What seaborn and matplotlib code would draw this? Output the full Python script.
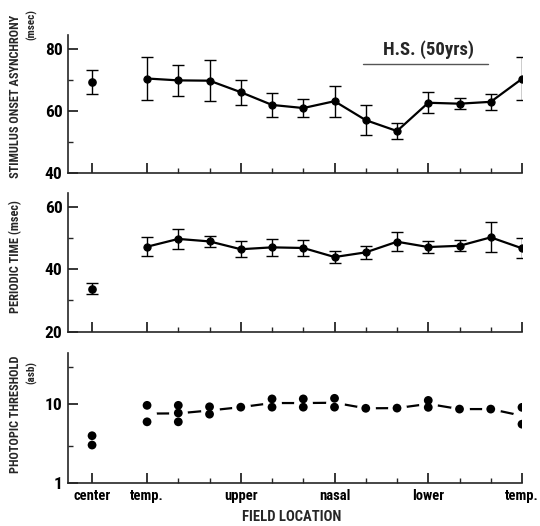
import numpy as np
import pandas as pd
import matplotlib
matplotlib.use('Agg')
import matplotlib.pyplot as plt
import seaborn as sns
from matplotlib.ticker import FixedLocator, NullFormatter, FixedFormatter

# ---------------- data ----------------
CENTER = -1.76
loc_ticks = [CENTER, 0, 3, 6, 9, 12]
loc_labels = ['center', 'temp.', 'upper', 'nasal', 'lower', 'temp.']
minor_ticks = [1, 2, 4, 5, 7, 8, 10, 11]
positions = list(range(13))

soa_center = [69.3]
soa_center_err = [3.8]
soa_mean = [70.4, 69.8, 69.7, 66.0, 61.9, 60.9, 63.1, 57.0, 53.5, 62.6, 62.3, 62.9, 70.3]
soa_err = [7.0, 5.0, 6.6, 4.0, 3.8, 2.9, 5.0, 4.8, 2.7, 3.4, 1.7, 2.6, 6.9]

per_center = [33.8]
per_center_err = [1.8]
per_mean = [47.2, 49.7, 48.9, 46.4, 47.0, 46.8, 43.9, 45.4, 48.8, 47.1, 47.5, 50.2, 46.7]
per_err = [3.0, 3.1, 1.8, 2.5, 2.7, 2.5, 1.8, 2.0, 3.0, 1.9, 1.8, 4.8, 3.2]

thr_pos = [CENTER, CENTER, 0, 0, 1, 1, 1, 2, 2, 3, 4, 4, 5, 5, 6, 6, 7, 8, 9, 9, 10, 11, 12, 12]
thr_val = [4.0, 3.05, 9.7, 6.0, 9.7, 7.76, 6.0, 9.3, 7.5, 9.2, 11.7, 9.2, 11.7, 9.2, 11.9, 9.2,
           8.9, 8.95, 11.2, 9.15, 8.7, 8.7, 9.15, 5.6]

# ---------------- style ----------------
sns.set_style('ticks')
FONT = ['Roboto Condensed', 'DejaVu Sans']
plt.rcParams['font.family'] = FONT
plt.rcParams['font.weight'] = 'bold'
plt.rcParams['axes.linewidth'] = 1.2

W, H = 540, 526
fig = plt.figure(figsize=(W / 100, H / 100), dpi=100)

def ax_rect(top_px, bottom_px, left_px=68, right_px=522):
    return [left_px / W, 1 - bottom_px / H, (right_px - left_px) / W, (bottom_px - top_px) / H]

ax1 = fig.add_axes(ax_rect(35, 173))
ax2 = fig.add_axes(ax_rect(193, 331.7))
ax3 = fig.add_axes(ax_rect(352.7, 483.3))

XLIM = (-2.53, 12.0)
MS = 5.2
CAP = 4.3

def style_axis(ax):
    sns.despine(ax=ax)
    ax.set_xlim(*XLIM)
    ax.spines['bottom'].set_bounds(XLIM[0], 12)
    ax.xaxis.set_major_locator(FixedLocator(loc_ticks))
    ax.xaxis.set_minor_locator(FixedLocator(minor_ticks))
    ax.tick_params(axis='both', which='major', direction='in', length=7, width=1.1,
                   labelsize=10.5, pad=4, colors='black')
    ax.tick_params(axis='y', which='major', labelsize=12.5, pad=4)
    ax.tick_params(axis='both', which='minor', direction='in', length=3.5, width=1.0)
    ax.set_xlabel('')
    ax.set_ylabel('')
    for lab in ax.get_yticklabels():
        lab.set_fontweight('bold')

# ---- top panel: SOA ----
sns.lineplot(x=positions, y=soa_mean, ax=ax1, color='black', lw=1.6, marker='o',
             markersize=MS, markeredgecolor='black', zorder=3)
ax1.errorbar(positions, soa_mean, yerr=soa_err, fmt='none', ecolor='black',
             elinewidth=1.0, capsize=CAP, capthick=1.0, zorder=2)
ax1.errorbar([CENTER], soa_center, yerr=soa_center_err, fmt='o', color='black',
             ms=MS, elinewidth=1.0, capsize=CAP, capthick=1.0, zorder=3)
ax1.set_ylim(40, 84.4)
ax1.yaxis.set_major_locator(FixedLocator([40, 60, 80]))
ax1.yaxis.set_minor_locator(FixedLocator([50, 70]))
style_axis(ax1)
ax1.set_xticklabels([])
ax1.text(9.0, 79.7, 'H.S. (50yrs)', ha='center', va='center', fontsize=13.5,
         fontweight='bold')
ax1.plot([6.91, 10.91], [75.2, 75.2], color='#555555', lw=1.0)

# ---- middle panel: periodic time ----
sns.lineplot(x=positions, y=per_mean, ax=ax2, color='black', lw=1.6, marker='o',
             markersize=MS, markeredgecolor='black', zorder=3)
ax2.errorbar(positions, per_mean, yerr=per_err, fmt='none', ecolor='black',
             elinewidth=1.0, capsize=CAP, capthick=1.0, zorder=2)
ax2.errorbar([CENTER], per_center, yerr=per_center_err, fmt='o', color='black',
             ms=MS, elinewidth=1.0, capsize=CAP, capthick=1.0, zorder=3)
ax2.set_ylim(20, 64.4)
ax2.yaxis.set_major_locator(FixedLocator([20, 40, 60]))
ax2.yaxis.set_minor_locator(FixedLocator([30, 50]))
style_axis(ax2)
ax2.set_xticklabels([])

# ---- bottom panel: photopic threshold ----
thr = pd.DataFrame({'pos': thr_pos, 'val': thr_val})
side = thr[thr['pos'] >= 0].copy()
side['logv'] = np.log10(side['val'])
gm = side.groupby('pos', as_index=False)['logv'].mean()
gm['gm'] = 10 ** gm['logv']
ax3.set_yscale('log')
sns.lineplot(data=gm, x='pos', y='gm', ax=ax3, color='black', lw=1.6, zorder=1)
ax3.plot(gm['pos'], gm['gm'], linestyle='none', marker='o', ms=12.5,
         color='white', markeredgecolor='white', zorder=2)
sns.scatterplot(data=thr, x='pos', y='val', ax=ax3, color='black', s=40,
                edgecolor='none', zorder=3)
ax3.set_ylim(1, 45)
ax3.yaxis.set_major_locator(FixedLocator([1, 10]))
ax3.yaxis.set_minor_locator(FixedLocator([3, 30]))
ax3.yaxis.set_major_formatter(FixedFormatter(['1', '10']))
ax3.yaxis.set_minor_formatter(NullFormatter())
style_axis(ax3)
ax3.set_xticklabels(loc_labels, fontsize=10.5, fontweight='bold')

# ---- axis titles ----
def fx(px): return px / W
def fy(py): return 1 - py / H

fig.text(fx(16), fy(96), 'STIMULUS ONSET ASYNCHRONY', rotation=90, ha='center',
         va='center', fontsize=8.8, fontweight='bold')
fig.text(fx(32), fy(24), '(msec)', rotation=90, ha='center', va='center',
         fontsize=8, fontweight='bold')
fig.text(fx(16), fy(257), 'PERIODIC TIME (msec)', rotation=90, ha='center',
         va='center', fontsize=8.8, fontweight='bold')
fig.text(fx(16), fy(414), 'PHOTOPIC THRESHOLD', rotation=90, ha='center',
         va='center', fontsize=8.8, fontweight='bold')
fig.text(fx(32), fy(372), '(asb)', rotation=90, ha='center', va='center',
         fontsize=8, fontweight='bold')
fig.text(fx(292), fy(517), 'FIELD LOCATION', ha='center', va='center',
         fontsize=10.5, fontweight='bold')

fig.savefig('out.png', dpi=100)
